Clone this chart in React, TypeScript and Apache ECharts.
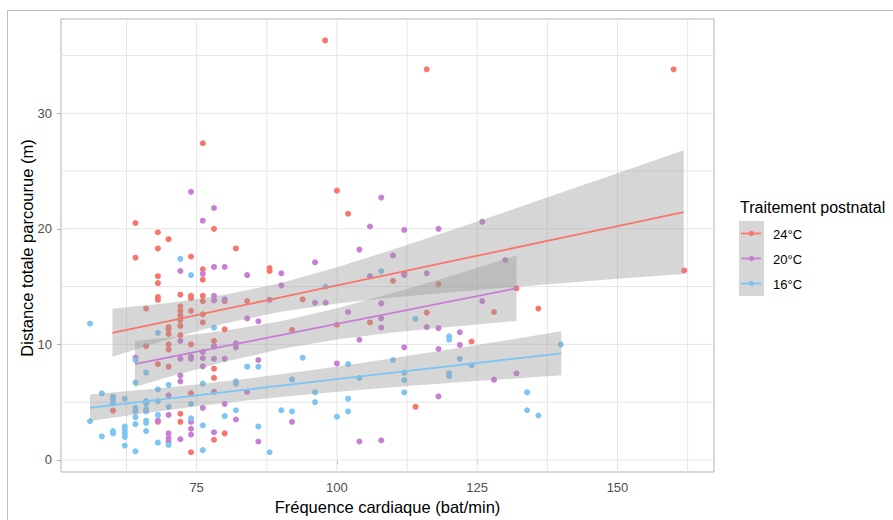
import React, { useEffect, useRef } from "react";
import * as echarts from "echarts";

const groupNames = ["24°C", "20°C", "16°C"];
const groupColors = ["#F8766D", "#C77FD3", "#7DC6F3"];

const xTickLabels = [75, 100, 125, 150];
const yTickLabels = [0, 10, 20, 30];
const xGrid = [62.5, 75, 87.5, 100, 112.5, 125, 137.5, 150, 162.5];
const yGrid = [0, 5, 10, 15, 20, 25, 30, 35];
const X_MIN = 50.83, X_MAX = 167.2, Y_MIN = -1.04, Y_MAX = 38.15;

const red24: number[][] = [
  [97.9, 36.3], [76.1, 27.4], [78.1, 20.0], [64.1, 20.5], [68.1, 19.7], [70.0, 19.1], [68.1, 18.3], [82.0, 18.3], [100.0, 23.3], [102.0, 21.3], [116.0, 33.8], [160.0, 33.8],
  [64.1, 17.5], [74.0, 17.6], [76.1, 16.5], [76.1, 15.6], [68.1, 15.9], [68.1, 15.3], [88.0, 16.6], [88.0, 16.35],
  [72.1, 14.3], [74.0, 14.2], [74.0, 14.0], [76.1, 14.2], [76.1, 13.75], [80.0, 13.75], [68.1, 14.1], [68.1, 13.85], [66.0, 13.1], [84.0, 13.75], [93.9, 13.9],
  [105.9, 11.9], [100.0, 11.7],
  [72.1, 13.3], [72.1, 12.9], [72.1, 12.5], [72.1, 12.1], [72.1, 11.6], [72.1, 10.8], [74.0, 12.9], [76.1, 12.6], [76.1, 11.9], [80.0, 11.3], [92.0, 11.25],
  [70.0, 11.5], [70.0, 11.3], [70.0, 10.9], [70.0, 10.0], [70.0, 9.55], [66.0, 9.85], [68.1, 8.3], [70.0, 8.07], [74.0, 10.0], [78.1, 10.3], [78.1, 9.85], [78.1, 7.9], [78.1, 7.1],
  [74.0, 5.77], [78.1, 1.75], [80.0, 2.3], [74.0, 0.67], [60.1, 4.27], [68.1, 3.3], [72.1, 4.0], [72.1, 3.3],
  [110.0, 15.5], [112.0, 16.1], [118.1, 15.2], [116.0, 12.75], [128.0, 12.8], [132.0, 14.85], [135.9, 13.1], [161.9, 16.4], [124.0, 10.25], [114.0, 4.6],
];

const purple20: number[][] = [
  [74.0, 23.2], [78.1, 21.8], [76.1, 20.7], [107.9, 22.7], [105.9, 20.2], [104.0, 18.2], [112.0, 19.9], [118.1, 20.0], [125.9, 20.6],
  [72.1, 16.35], [76.1, 16.1], [78.1, 16.7], [80.0, 16.7], [84.0, 16.0], [90.1, 16.15], [96.1, 17.1], [90.1, 15.1],
  [78.1, 14.2], [78.1, 13.8], [80.0, 13.9], [88.0, 13.85], [96.1, 13.6], [98.0, 13.6], [105.9, 15.9], [107.9, 13.55], [107.9, 11.45], [107.9, 12.25], [102.0, 12.8], [104.0, 10.4], [100.0, 8.35], [104.0, 1.6], [107.9, 1.7],
  [72.1, 10.3], [84.0, 12.25], [86.0, 12.0], [64.1, 8.85], [72.1, 8.75], [72.1, 7.3], [72.1, 6.8], [74.0, 8.95], [74.0, 8.75], [76.1, 9.35], [76.1, 8.8], [76.1, 8.1], [78.1, 9.8], [80.0, 8.75], [78.1, 8.75], [82.0, 10.1], [82.0, 9.75], [86.0, 8.65], [84.0, 5.9],
  [78.1, 5.9], [76.1, 4.5], [80.0, 4.85], [82.0, 3.5], [92.0, 3.3], [86.0, 1.6], [78.1, 2.4],
  [68.1, 3.4], [70.0, 5.6], [70.0, 3.9], [70.0, 2.3], [70.0, 1.9], [70.0, 1.6], [72.1, 1.8], [74.0, 3.3], [74.0, 2.7], [74.0, 2.2],
  [110.0, 17.7], [112.0, 16.0], [116.0, 16.15], [130.0, 17.3], [116.0, 11.5], [118.1, 11.4], [125.9, 13.75], [121.9, 11.05], [121.9, 9.95], [112.0, 9.75], [118.1, 9.6], [128.0, 6.95], [132.0, 7.5], [118.1, 5.5],
];

const blue16: number[][] = [
  [72.1, 17.4], [74.0, 16.0], [98.0, 15.0], [107.9, 16.35], [102.0, 8.3], [104.0, 7.1], [102.0, 5.3], [102.0, 4.2], [100.0, 3.75],
  [78.1, 11.45], [68.1, 11.0], [64.1, 8.65], [66.0, 7.55], [76.1, 6.6], [82.0, 6.8], [82.0, 6.6], [84.0, 8.07], [86.0, 8.07], [93.9, 8.85], [92.0, 6.98], [96.1, 5.85], [96.1, 5.0],
  [74.0, 4.85], [80.0, 3.8], [82.0, 4.3], [90.1, 4.3], [92.0, 4.2], [86.0, 2.9], [88.0, 0.67], [76.1, 3.0], [76.1, 0.85],
  [56.0, 11.8], [56.0, 3.35], [58.1, 5.77], [58.1, 2.05], [60.1, 5.48], [60.1, 5.2], [60.1, 4.9], [60.1, 2.5], [60.1, 2.3], [62.2, 5.3], [62.2, 2.9], [62.2, 2.6], [62.2, 2.3], [62.2, 2.0], [62.2, 1.25],
  [64.1, 6.7], [64.1, 4.5], [64.1, 4.2], [64.1, 3.7], [64.1, 3.1], [64.1, 0.75], [66.0, 5.1], [66.0, 4.9], [66.0, 4.4], [66.0, 4.2], [66.0, 3.4], [66.0, 3.2], [66.0, 2.5],
  [68.1, 6.1], [68.1, 5.1], [68.1, 3.9], [68.1, 1.5], [70.0, 6.5], [70.0, 4.6], [70.0, 1.3], [74.0, 3.6],
  [114.0, 12.2], [120.0, 10.7], [120.0, 10.4], [110.0, 8.65], [112.0, 7.55], [112.0, 6.9], [112.0, 5.85], [121.9, 8.75], [120.0, 7.5], [120.0, 7.25], [124.0, 8.2], [133.9, 5.85], [133.9, 4.3], [135.9, 3.85], [139.9, 10.0],
];

// Fitted lines and confidence bands
const fit24X = [60, 70, 80, 90, 100, 110, 120, 130, 140, 150, 161.8];
const fit24Y = [11.0, 12.02, 13.05, 14.07, 15.1, 16.13, 17.15, 18.18, 19.21, 20.24, 21.45];
const fit24Lo = [8.92, 10.45, 11.81, 12.83, 13.53, 14.05, 14.49, 14.9, 15.29, 15.67, 16.1];
const fit24Hi = [13.08, 13.59, 14.29, 15.31, 16.67, 18.21, 19.81, 21.46, 23.13, 24.81, 26.8];

const fit20X = [64, 70, 80, 90, 100, 110, 120, 132];
const fit20Y = [8.3, 8.88, 9.84, 10.8, 11.77, 12.73, 13.69, 14.85];
const fit20Lo = [6.31, 7.17, 8.49, 9.6, 10.42, 11.02, 11.5, 12.02];
const fit20Hi = [10.29, 10.59, 11.19, 12.0, 13.12, 14.44, 15.88, 17.68];

const fit16X = [56, 65, 75, 85, 95, 105, 115, 125, 140];
const fit16Y = [4.52, 5.02, 5.59, 6.15, 6.71, 7.27, 7.83, 8.39, 9.23];
const fit16Lo = [3.37, 3.99, 4.64, 5.2, 5.68, 6.1, 6.48, 6.83, 7.33];
const fit16Hi = [5.67, 6.05, 6.54, 7.1, 7.74, 8.44, 9.18, 9.95, 11.13];

const FONT = "Liberation Sans, Arial, sans-serif";

function bandSeries(xs: number[], lo: number[], hi: number[], z: number) {
  return {
    type: "custom",
    coordinateSystem: "cartesian2d",
    silent: true,
    clip: true,
    z,
    data: [[xs[0], lo[0]]],
    renderItem: (_p: any, api: any) => {
      const pts: number[][] = [];
      for (let i = 0; i < xs.length; i++) pts.push(api.coord([xs[i], hi[i]]));
      for (let i = xs.length - 1; i >= 0; i--) pts.push(api.coord([xs[i], lo[i]]));
      return {
        type: "polygon",
        shape: { points: pts },
        style: { fill: "rgba(153,153,153,0.4)", stroke: "none" },
      };
    },
  };
}

function lineSeries(name: string, xs: number[], ys: number[], color: string) {
  return {
    type: "line",
    name,
    data: xs.map((x, i) => [x, ys[i]]),
    symbol: "none",
    silent: true,
    z: 5,
    lineStyle: { color, width: 1.8 },
  };
}

export default function App() {
  const ref = useRef<HTMLDivElement>(null);
  useEffect(() => {
    if (!ref.current) return;
    const chart = echarts.init(ref.current, null, { renderer: "svg" });
    const gridSeries = {
      type: "custom",
      coordinateSystem: "cartesian2d",
      silent: true,
      z: 1,
      data: [[100, 10]],
      renderItem: (_p: any, api: any) => {
        const children: any[] = [];
        xGrid.forEach((v) => {
          const a = api.coord([v, Y_MIN]);
          const b = api.coord([v, Y_MAX]);
          children.push({ type: "line", shape: { x1: a[0], y1: a[1], x2: b[0], y2: b[1] }, style: { stroke: "#E6E6E6", lineWidth: 1 } });
        });
        yGrid.forEach((v) => {
          const a = api.coord([X_MIN, v]);
          const b = api.coord([X_MAX, v]);
          children.push({ type: "line", shape: { x1: a[0], y1: a[1], x2: b[0], y2: b[1] }, style: { stroke: "#E6E6E6", lineWidth: 1 } });
        });
        return { type: "group", children };
      },
    };
    const scatter = (name: string, data: number[][], color: string) => ({
      type: "scatter",
      name,
      data,
      symbolSize: 6,
      z: 2,
      itemStyle: { color, opacity: 1 },
      silent: true,
    });

    const legendX = 739;
    const legendY = 221;
    const keyH = 25;
    const legendChildren: any[] = [
      { type: "rect", shape: { x: legendX, y: legendY, width: 25, height: keyH * 3 }, style: { fill: "#D6D6D6" } },
      { type: "text", x: 740, y: 207, style: { text: "Traitement postnatal", fill: "#000", font: `16px ${FONT}`, textAlign: "left", textVerticalAlign: "middle" } },
    ];
    groupNames.forEach((g, i) => {
      const cy = legendY + keyH * i + 12.5;
      legendChildren.push({ type: "line", shape: { x1: legendX + 2, y1: cy, x2: legendX + 22, y2: cy }, style: { stroke: groupColors[i], lineWidth: 1.8 } });
      legendChildren.push({ type: "circle", shape: { cx: legendX + 12.5, cy, r: 2.6 }, style: { fill: groupColors[i] } });
      legendChildren.push({ type: "text", x: 773, y: cy + 1, style: { text: g, fill: "#000", font: `13px ${FONT}`, textAlign: "left", textVerticalAlign: "middle" } });
    });

    chart.setOption({
      animation: false,
      backgroundColor: "#ffffff",
      grid: { show: true, left: 61, top: 19, width: 653, height: 453, borderColor: "#B3B3B3", borderWidth: 1, backgroundColor: "transparent", containLabel: false },
      xAxis: {
        type: "value",
        min: X_MIN,
        max: X_MAX,
        axisLine: { show: false },
        splitLine: { show: false },
        axisTick: { show: true, length: 4, lineStyle: { color: "#B3B3B3" }, customValues: xTickLabels },
        axisLabel: { color: "#4D4D4D", fontSize: 13, fontFamily: FONT, margin: 9, customValues: xTickLabels },
      },
      yAxis: {
        type: "value",
        min: Y_MIN,
        max: Y_MAX,
        axisLine: { show: false },
        splitLine: { show: false },
        axisTick: { show: true, length: 4, lineStyle: { color: "#B3B3B3" }, customValues: yTickLabels },
        axisLabel: { color: "#4D4D4D", fontSize: 13, fontFamily: FONT, margin: 9, customValues: yTickLabels },
      },
      graphic: [
        { type: "line", shape: { x1: 7, y1: 10.5, x2: 893, y2: 10.5 }, style: { stroke: "#BDBDBD", lineWidth: 1 } },
        { type: "line", shape: { x1: 7.5, y1: 10, x2: 7.5, y2: 520 }, style: { stroke: "#BDBDBD", lineWidth: 1 } },
        { type: "text", x: 387.5, y: 507, style: { text: "Fréquence cardiaque (bat/min)", fill: "#000", font: `16.5px ${FONT}`, textAlign: "center", textVerticalAlign: "middle" } },
        { type: "text", x: 27, y: 248, rotation: Math.PI / 2, style: { text: "Distance totale parcourue (m)", fill: "#000", font: `16.5px ${FONT}`, textAlign: "center", textVerticalAlign: "middle" } },
        { type: "group", children: legendChildren },
      ],
      series: [
        gridSeries,
        scatter(groupNames[0], red24, groupColors[0]),
        scatter(groupNames[1], purple20, groupColors[1]),
        scatter(groupNames[2], blue16, groupColors[2]),
        bandSeries(fit24X, fit24Lo, fit24Hi, 3),
        bandSeries(fit20X, fit20Lo, fit20Hi, 3),
        bandSeries(fit16X, fit16Lo, fit16Hi, 3),
        lineSeries(groupNames[0], fit24X, fit24Y, groupColors[0]),
        lineSeries(groupNames[1], fit20X, fit20Y, groupColors[1]),
        lineSeries(groupNames[2], fit16X, fit16Y, groupColors[2]),
      ],
    });
    return () => chart.dispose();
  }, []);
  return <div ref={ref} style={{ position: "absolute", left: 0, top: 0, width: 893, height: 520, background: "#fff" }} />;
}
